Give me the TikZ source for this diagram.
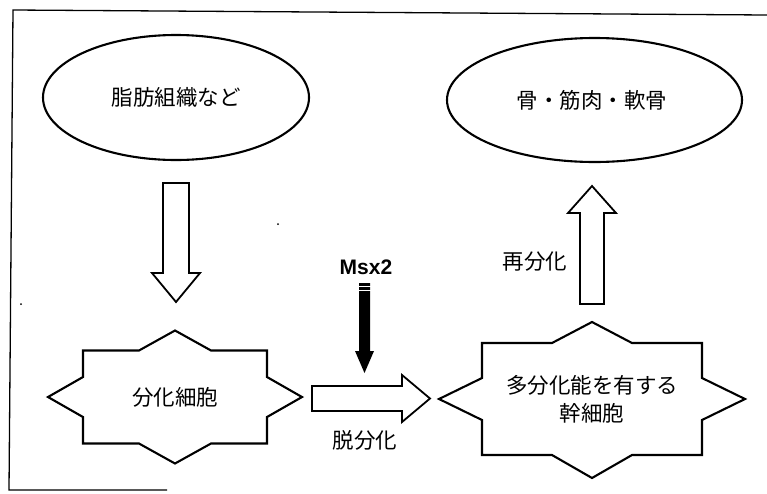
\documentclass[tikz,border=0pt]{standalone}
\usepackage{fontspec}
\setmainfont{Noto Sans CJK JP}
\newfontfamily\arialf{Liberation Sans}
\usetikzlibrary{calc,shapes.geometric}
\tikzset{
  shapeline/.style={draw=black, line width=2.1pt, line join=miter},
  arrowline/.style={draw=black, fill=white, line width=1.8pt, line join=miter},
  jtext/.style={font=\fontsize{21.5}{28}\selectfont, inner sep=0pt, align=center},
  ellnode/.style={ellipse, shapeline, jtext}
}
\newcommand\hollowarrow[6]{%
  \path ($(#3)!#6!(#2)$) coordinate (hh);
  \path[#1] ($(#2)!#4!90:(#3)$) -- ($(hh)!#4!90:(#3)$) -- ($(hh)!#5!90:(#3)$) -- (#3)
    -- ($(hh)!#5!-90:(#3)$) -- ($(hh)!#4!-90:(#3)$) -- ($(#2)!#4!-90:(#3)$) -- cycle;}
\newcommand\starpoly[8]{% node, hw, hh, sx, sy, peak top, peak bottom, point
  \draw[shapeline]
    ($(#1)+(-#2,-#3)$) -- ($(#1)+(-#4,-#3)$) -- ($(#1)+(0,-#3-#6)$) -- ($(#1)+(#4,-#3)$)
    -- ($(#1)+(#2,-#3)$) -- ($(#1)+(#2,-#5)$) -- ($(#1)+(#2+#8,0)$) -- ($(#1)+(#2,#5)$)
    -- ($(#1)+(#2,#3)$) -- ($(#1)+(#4,#3)$) -- ($(#1)+(0,#3+#7)$) -- ($(#1)+(-#4,#3)$)
    -- ($(#1)+(-#2,#3)$) -- ($(#1)+(-#2,#5)$) -- ($(#1)+(-#2-#8,0)$) -- ($(#1)+(-#2,-#5)$)
    -- cycle;}
\begin{document}
\begin{tikzpicture}[x=1pt,y=-1pt]
\useasboundingbox (0,0) rectangle (767,493);
% frame
\draw[line width=1.3pt] (767,15) -- (13,10) -- (9,490) -- (167,490);
% stray dots
\fill (278,224) circle (1pt);
\fill (21,304) circle (1pt);
% ellipses
\node[ellnode, minimum width=266pt, minimum height=125pt] (e1) at (176,97.5) {脂肪組織など};
\node[ellnode, minimum width=295pt, minimum height=124pt] (e2) at (594.5,100) {\hspace*{-5pt}骨・筋肉・軟骨};
% stars
\node[jtext] (s1) at (175,397) {分化細胞};
\starpoly{s1}{92}{46.5}{36}{20}{20}{20}{35}
\node[jtext] (s2) at (592,399) {多分化能を有する\\幹細胞};
\starpoly{s2}{110}{56}{40}{21}{21}{23}{43}
% hollow arrows
\coordinate (d1) at (176,183);
\coordinate (d2) at (176,302);
\hollowarrow{arrowline}{d1}{d2}{13pt}{24pt}{29pt}
\coordinate (u1) at (592,304);
\coordinate (u2) at (592,186);
\hollowarrow{arrowline}{u1}{u2}{12pt}{24pt}{27pt}
\coordinate (r1) at (312,398.5);
\coordinate (r2) at (430,398.5);
\hollowarrow{arrowline}{r1}{r2}{12.5pt}{23.5pt}{28pt}
% black Msx2 arrow
\node[font=\arialf\bfseries\fontsize{21}{24}\selectfont, inner sep=0pt] (msx) at (366,267) {Msx2};
\coordinate (m1) at (364.5,283);
\coordinate (m2) at (364.5,373);
\hollowarrow{fill=black}{m1}{m2}{5.5pt}{9.5pt}{22pt}
\draw[white, line width=1.2pt] (358,286.8) -- (371,286.8);
\draw[white, line width=1.2pt] (358,290.8) -- (371,290.8);
% labels
\node[jtext] (lbl1) at (365,440) {脱分化};
\node[jtext] (lbl2) at (535,262) {再分化};
\end{tikzpicture}
\end{document}
